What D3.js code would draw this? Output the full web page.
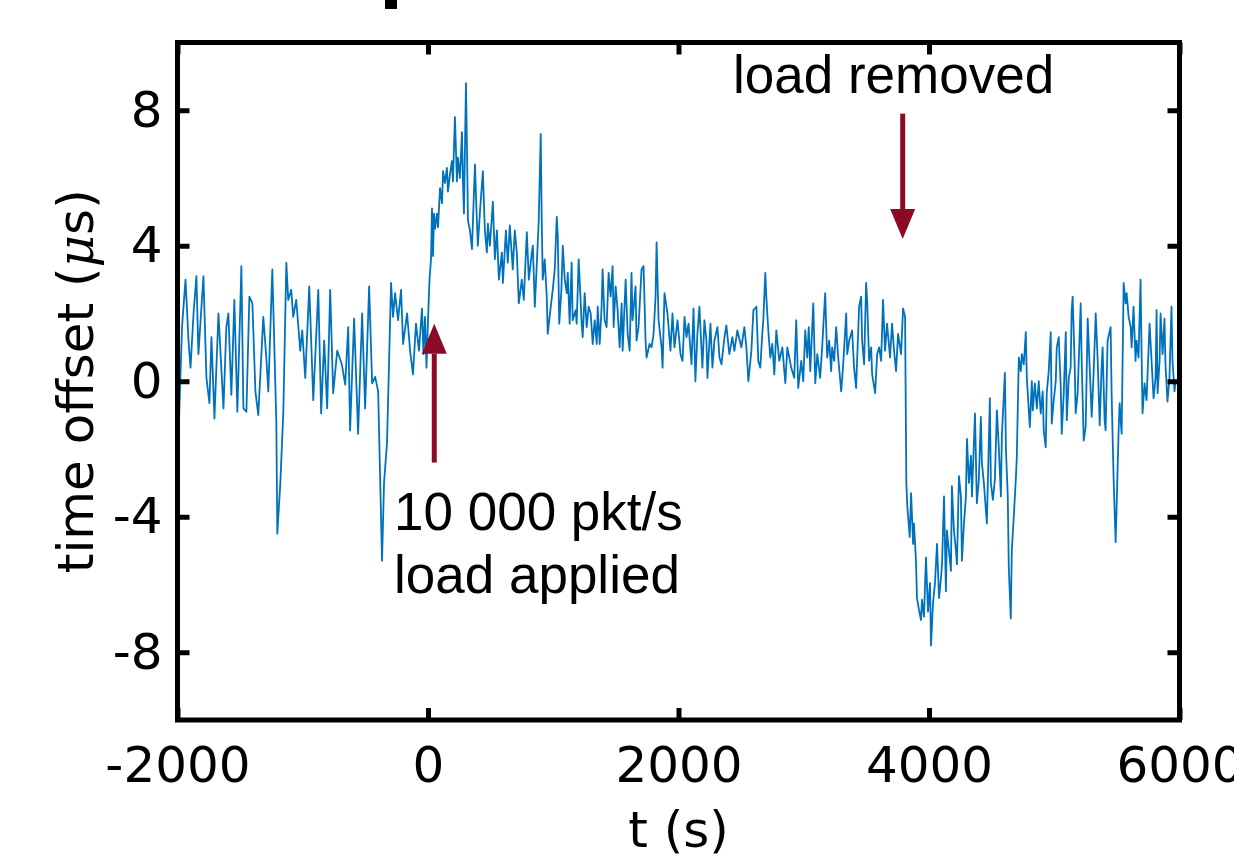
<!DOCTYPE html>
<html>
<head>
<meta charset="utf-8">
<script src="https://cdn.jsdelivr.net/npm/d3@7"></script>
<style>
  body { margin: 0; background: #fff; }
  svg { display: block; }
</style>
</head>
<body>
<script>
var width = 1234
var height = 858

// time offset readings as [t (s), offset (µs)]
var beforeLoad = [
  [-2000,-2.6],[-1964,1.6],[-1936,3.0],[-1912,1.2],[-1896,0.4],[-1872,2.0],[-1849,3.1],[-1833,0.8],
  [-1793,3.1],[-1769,0.1],[-1745,-0.65],[-1729,1.3],[-1705,-1.1],[-1673,2.0],[-1633,-0.8],[-1610,1.6],
  [-1594,2.0],[-1570,-0.4],[-1546,2.4],[-1522,-0.9],[-1490,3.4],[-1474,-0.8],[-1450,-0.9],[-1426,2.5],
  [-1402,2.3],[-1378,-0.3],[-1355,-1.0],[-1315,1.9],[-1291,0.7],[-1275,-0.3],[-1243,3.3],[-1211,-1.2],
  [-1203,-4.5],[-1179,-3.0],[-1155,-0.9],[-1131,3.5],[-1116,2.4],[-1092,2.7],[-1076,1.9],[-1052,2.4],
  [-1020,0.9],[-1004,1.5],[-980,0.1],[-948,2.8],[-916,-0.56],[-876,2.7],[-853,-0.95],[-829,1.2],
  [-805,-0.8],[-781,2.7],[-757,-0.35],[-725,0.9],[-688,0.5],[-661,-0.1],[-637,1.6],[-622,-1.45],
  [-590,1.85],[-558,-1.55],[-526,2.0],[-502,-0.8],[-470,2.8],[-446,-0.06],[-422,0.13],[-398,-0.3],
  [-367,-5.3],[-351,-3.0],[-327,-1.8],[-295,2.9],[-279,1.9],[-263,2.6],[-239,1.8],[-215,2.7],
  [-199,1.1],[-167,2.0],[-143,0.9],[-120,0.2],[-96,1.7],[-72,0.9],[-48,2.15],[-36,0.8],
  [-24,1.9],[-12,0.4]
]

var underLoad = [
  [0,1.8],[12,3.0],[24,3.6],[32,5.1],[40,3.7],[48,4.95],[56,4.5],[72,4.95],[80,4.55],[96,5.7],
  [112,5.25],[120,6.2],[135,5.85],[151,6.3],[159,5.6],[175,6.1],[191,6.5],[199,5.9],[215,7.8],
  [231,5.9],[239,6.6],[255,6.0],[271,7.35],[279,5.9],[287,4.95],[303,8.8],[311,6.9],[319,4.75],
  [335,4.45],[351,3.9],[359,4.75],[375,6.4],[390,4.75],[398,4.0],[414,4.95],[438,6.2],[454,4.45],
  [470,3.8],[478,4.65],[494,4.0],[518,5.3],[534,3.6],[550,4.45],[566,3.0],[590,3.8],[598,2.9],
  [622,4.45],[637,3.5],[653,4.6],[677,3.3],[693,4.45],[709,3.8],[725,2.3],[749,3.0],[765,2.4],
  [789,4.4],[805,3.0],[829,3.8],[837,4.0],[853,2.2],[869,3.5],[884,4.7],[900,7.3],[908,4.75],
  [916,3.0],[932,3.6],[948,2.5],[956,1.4],[980,2.2],[996,2.7],[1012,3.3],[1028,4.85],[1036,4.3],
  [1048,1.7],[1065,2.7],[1076,4.0],[1092,3.0],[1108,2.6],[1116,3.2],[1131,1.7],[1147,3.5],
  [1155,1.8],[1179,2.1],[1187,1.7],[1203,3.6],[1227,1.7],[1235,1.3],[1251,2.6],[1267,1.6],
  [1283,2.2],[1299,2.0],[1315,1.1],[1331,1.8],[1347,1.1],[1355,2.2],[1371,1.1],[1386,2.2],
  [1394,3.3],[1410,1.8],[1426,1.6],[1442,3.2],[1458,2.5],[1474,3.4],[1482,1.6],[1498,2.8],
  [1514,2.1],[1530,1.0],[1546,2.3],[1554,0.9],[1578,3.0],[1594,1.4],[1610,0.9],[1625,3.2],
  [1633,1.8],[1657,2.8],[1665,1.2],[1681,1.6],[1705,3.3],[1721,3.4],[1737,1.2],[1745,0.7],
  [1769,1.1],[1785,1.0],[1801,1.4],[1817,2.5],[1825,4.1],[1841,1.8],[1865,1.0],[1873,0.4],
  [1888,2.6],[1904,2.2],[1912,2.0],[1936,0.9],[1952,2.0],[1968,1.0],[1992,1.8],[2016,0.8],
  [2032,0.6],[2048,1.9],[2064,1.3],[2080,1.7],[2104,0.5],[2120,2.15],[2135,0.0],[2151,1.4],
  [2167,2.2],[2191,0.4],[2207,1.8],[2223,1.2],[2231,0.1],[2255,1.7],[2271,0.4],[2287,1.2],
  [2311,1.6],[2327,0.7],[2343,0.5],[2367,1.3],[2382,1.65],[2406,0.8],[2430,1.3],[2446,0.9],
  [2470,1.5],[2502,1.0],[2526,1.6],[2542,1.0],[2558,0.0],[2582,0.9],[2598,2.1],[2622,2.2],
  [2637,0.6],[2653,0.4],[2669,1.4],[2677,1.8],[2693,3.2],[2701,2.5],[2717,1.5],[2733,0.7],
  [2749,1.1],[2765,0.2],[2781,1.5],[2805,0.6],[2829,1.0],[2853,-0.06],[2869,1.0],[2900,0.4],
  [2924,0.1],[2940,1.8],[2956,-0.2],[2980,0.6],[2996,0.0],[3012,1.5],[3028,0.7],[3040,1.6],
  [3052,0.3],[3076,2.3],[3092,-0.06],[3108,0.8],[3131,0.1],[3147,1.0],[3171,2.6],[3187,0.7],
  [3203,1.2],[3219,0.3],[3227,1.0],[3243,0.6],[3259,1.6],[3275,0.7],[3299,-0.3],[3315,0.5],
  [3339,2.0],[3347,0.8],[3363,1.2],[3386,1.5],[3402,0.4],[3418,-0.2],[3442,2.2],[3458,2.5],
  [3466,1.2],[3482,0.5],[3498,2.9],[3506,2.4],[3522,0.6],[3538,1.0],[3546,0.2],[3570,-0.35],
  [3586,0.8],[3602,1.0],[3618,0.6],[3633,2.4],[3649,0.9],[3665,1.7],[3689,0.7],[3705,1.7],
  [3721,0.9],[3737,0.3],[3753,1.4],[3777,0.8],[3793,2.15],[3809,1.9]
]

var afterRemoval = [
  [3819,-3.0],[3827,-3.7],[3846,-4.6],[3857,-3.3],[3873,-4.8],[3880,-4.2],[3896,-5.3],[3904,-6.4],
  [3920,-6.75],[3936,-7.05],[3944,-6.45],[3960,-6.95],[3976,-5.2],[3992,-6.8],[4008,-5.95],
  [4016,-7.8],[4032,-6.55],[4048,-5.95],[4064,-4.8],[4080,-6.4],[4096,-5.8],[4104,-5.4],
  [4120,-3.4],[4135,-6.2],[4143,-4.4],[4159,-5.0],[4175,-5.6],[4183,-3.1],[4199,-4.4],
  [4215,-5.0],[4223,-5.4],[4239,-2.8],[4255,-3.4],[4263,-5.3],[4279,-4.2],[4295,-3.4],
  [4303,-1.7],[4319,-3.0],[4335,-2.2],[4343,-3.4],[4367,-0.95],[4382,-3.6],[4398,-2.9],
  [4414,-1.05],[4422,-2.4],[4438,-3.0],[4462,-4.2],[4486,-0.5],[4494,-3.0],[4510,-3.5],
  [4526,-2.9],[4542,-0.86],[4558,-2.0],[4574,-3.4],[4582,-1.6],[4606,0.25],[4614,-2.0],
  [4629,-3.4],[4637,-5.5],[4653,-7.0],[4661,-5.0],[4677,-4.0],[4693,-2.9],[4701,-2.25],
  [4717,0.7],[4733,0.3],[4741,0.8],[4757,0.5],[4773,1.45],[4781,0.1],[4805,-1.35],[4821,0.0],
  [4829,-0.86],[4845,-0.06],[4861,-0.8],[4876,0.0],[4892,-0.95],[4908,-0.3],[4916,-1.45],
  [4932,-1.95],[4940,-0.35],[4956,0.3],[4972,1.45],[4980,-1.25],[4996,-0.56],[5012,0.0],
  [5020,1.0],[5036,1.3],[5052,-0.2],[5060,-1.55],[5076,-0.35],[5092,1.45],[5100,-1.15],
  [5116,0.1],[5131,0.4],[5139,2.1],[5147,2.5],[5163,0.5],[5171,-0.95],[5187,-0.35],[5211,2.3],
  [5219,0.6],[5235,-1.75],[5251,-1.35],[5267,1.85],[5283,0.4],[5299,-1.05],[5315,0.3],
  [5331,2.0],[5347,0.6],[5363,-1.3],[5378,0.4],[5386,1.0],[5402,-1.15],[5410,-1.45],[5426,1.2],
  [5450,1.6],[5458,-0.35],[5474,-2.9],[5490,-4.75],[5498,-3.7],[5514,-1.45],[5522,-0.65],
  [5538,-1.55],[5554,2.9],[5570,2.3],[5578,2.6],[5594,1.9],[5610,1.6],[5618,1.0],[5633,2.2],
  [5649,0.6],[5657,1.2],[5673,0.7],[5689,3.0],[5697,0.9],[5705,-0.95],[5721,-0.06],[5737,-0.56],
  [5761,1.7],[5777,0.6],[5793,-0.5],[5809,0.1],[5817,2.1],[5825,-0.35],[5841,0.6],[5849,2.0],
  [5865,0.8],[5880,1.85],[5888,0.5],[5904,-0.6],[5920,0.1],[5936,2.2],[5944,0.6],[5960,-0.3],
  [5968,0.0],[6000,0.0]
]

var xTicks = [-2000, 0, 2000, 4000, 6000]
var yTicks = [-8, -4, 0, 4, 8]

// arrows: [t, from µs, to µs]
var applyArrow = [50, -2.4, 1.7]
var removeArrow = [3790, 7.9, 4.2]

var trace = beforeLoad.concat(underLoad, afterRemoval)

var margin = { left: 177.5, right: 1179.5, top: 42.5, bottom: 720 }

var x = d3.scaleLinear().domain([-2000, 6000]).range([margin.left, margin.right])
var y = d3.scaleLinear().domain([-10, 10]).range([margin.bottom, margin.top])

const svg = d3.select("body").append("svg")
  .attr("width", width)
  .attr("height", height)
  .attr("viewBox", [0, 0, width, height])

svg.append("clipPath").attr("id", "plot")
  .append("rect")
  .attr("x", margin.left).attr("y", margin.top)
  .attr("width", margin.right - margin.left)
  .attr("height", margin.bottom - margin.top)

// trace
svg.append("path")
  .datum(trace)
  .attr("clip-path", "url(#plot)")
  .attr("fill", "none")
  .attr("stroke", "#0072bd")
  .attr("stroke-width", 1.8)
  .attr("stroke-linejoin", "round")
  .attr("d", d3.line().x(d => x(d[0])).y(d => y(d[1])))

// axes, ticks pointing inside on all four sides
var tickLen = 12
var plain = d => String(d)
function style(g, showLabels) {
  g.select(".domain").remove()
  g.selectAll(".tick line").attr("stroke", "#000").attr("stroke-width", 5)
  g.selectAll(".tick text")
    .attr("font-family", "'DejaVu Sans', sans-serif")
    .attr("font-size", 50)
    .attr("fill", "#000")
  if (!showLabels) g.selectAll(".tick text").remove()
}

svg.append("g")
  .attr("transform", `translate(0,${margin.bottom})`)
  .call(d3.axisBottom(x).tickValues(xTicks).tickFormat(plain).tickSize(-tickLen).tickPadding(26))
  .call(g => style(g, true))

svg.append("g")
  .attr("transform", `translate(0,${margin.top})`)
  .call(d3.axisTop(x).tickValues(xTicks).tickSize(-tickLen))
  .call(g => style(g, false))

svg.append("g")
  .attr("transform", `translate(${margin.left},0)`)
  .call(d3.axisLeft(y).tickValues(yTicks).tickFormat(plain).tickSize(-tickLen).tickPadding(15))
  .call(g => style(g, true))

svg.append("g")
  .attr("transform", `translate(${margin.right},0)`)
  .call(d3.axisRight(y).tickValues(yTicks).tickSize(-tickLen))
  .call(g => style(g, false))

// box
svg.append("rect")
  .attr("x", margin.left).attr("y", margin.top)
  .attr("width", margin.right - margin.left)
  .attr("height", margin.bottom - margin.top)
  .attr("fill", "none")
  .attr("stroke", "#000")
  .attr("stroke-width", 5)

// axis titles
svg.append("text")
  .attr("x", x(2000)).attr("y", 847)
  .attr("text-anchor", "middle")
  .attr("font-family", "'DejaVu Sans', sans-serif")
  .attr("font-size", 50)
  .text("t (s)")

var yTitle = svg.append("text")
  .attr("transform", `translate(93,${y(0)}) rotate(-90)`)
  .attr("text-anchor", "middle")
  .attr("font-family", "'DejaVu Sans', sans-serif")
  .attr("font-size", 50)
yTitle.append("tspan").text("time offset (")
yTitle.append("tspan").attr("font-family", "'DejaVu Serif', serif").attr("font-style", "italic").text("\u03bc")
yTitle.append("tspan").text("s)")

// load arrows
var red = "#8b0b26"
function arrow(a) {
  var x0 = x(a[0]), y0 = y(a[1]), y1 = y(a[2])
  var dir = y1 < y0 ? -1 : 1
  var head = 30, half = 12.5
  svg.append("line")
    .attr("x1", x0).attr("x2", x0)
    .attr("y1", y0).attr("y2", y1 - dir * head)
    .attr("stroke", red).attr("stroke-width", 5)
  svg.append("path")
    .attr("fill", red)
    .attr("d", `M${x0},${y1}L${x0 - half},${y1 - dir * head}L${x0 + half},${y1 - dir * head}Z`)
}
arrow(applyArrow)
arrow(removeArrow)

var note = svg.append("g")
  .attr("font-family", "'Liberation Sans', Arial, sans-serif")
  .attr("font-size", 53)
note.append("text").attr("x", 394).attr("y", 530).text("10 000 pkt/s")
note.append("text").attr("x", 394).attr("y", 593).text("load applied")
note.append("text").attr("x", 733).attr("y", 93).text("load removed")

// bit of the cropped panel title above the frame
svg.append("rect").attr("x", 385).attr("y", 0).attr("width", 12).attr("height", 9).attr("fill", "#000")
</script>
</body>
</html>
